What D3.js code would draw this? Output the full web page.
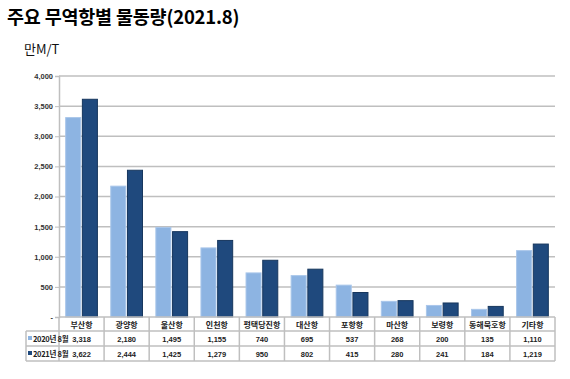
<!DOCTYPE html>
<html><head><meta charset="utf-8">
<script src="https://cdn.jsdelivr.net/npm/d3@7"></script>
<style>
body{margin:0;background:#fff;}
svg{display:block;font-family:"Noto Sans CJK KR","Noto Sans",sans-serif;}
</style></head>
<body><svg id="c" width="570" height="379"></svg>
<script>
const categories = ["부산항","광양항","울산항","인천항","평택당진항","대산항","포항항","마산항","보령항","동해묵호항","기타항"];
const series2020 = [3318,2180,1495,1155,740,695,537,268,200,135,1110];
const series2021 = [3622,2444,1425,1279,950,802,415,280,241,184,1219];
const seriesNames = ["2020년 8월","2021년 8월"];
const yTicks = [0,500,1000,1500,2000,2500,3000,3500,4000];
const colors = ["#8DB4E2","#1F497D"];
const strokes = ["#A9C6EA","#17375E"];

(function(){
const svg = d3.select("#c");
const pL = 59, pR = 555, pT = 76, pB = 317;
const x = d3.scaleBand().domain(categories).range([pL,pR]);
const inner = d3.scaleBand().domain([0,1]).range([0,x.bandwidth()]).paddingInner(0.04).paddingOuter(0.37);
const y = d3.scaleLinear().domain([0,4000]).range([pB,pT]);
const fmt = d3.format(",");

svg.append("text").attr("x",7).attr("y",24).attr("font-size",18.5).attr("font-weight","bold").attr("fill","#000").attr("letter-spacing",-0.2).text("주요 무역항별 물동량(2021.8)");
svg.append("text").attr("x",24).attr("y",54).attr("font-size",13).attr("fill","#111").text("만M/T");

svg.append("g").selectAll("line").data(yTicks.filter(d=>d>0)).join("line")
 .attr("x1",pL).attr("x2",pR).attr("y1",d=>y(d)).attr("y2",d=>y(d))
 .attr("stroke","#BFBFBF").attr("stroke-width",1.5);
const ya = svg.append("g").attr("transform",`translate(${pL},0)`)
 .call(d3.axisLeft(y).tickValues(yTicks).tickSize(4).tickFormat(d=>d===0?"-":fmt(d)));
ya.select(".domain").attr("stroke","#BFBFBF").attr("stroke-width",1.5);
ya.selectAll(".tick line").attr("stroke","#BFBFBF");
ya.selectAll("text").attr("font-size",7.5).attr("font-weight","bold").attr("fill","#333").attr("font-family","Liberation Sans, Arial, sans-serif").attr("x",-6);

const data = [series2020, series2021];
data.forEach((vals,si)=>{
  svg.append("g").selectAll("rect").data(vals).join("rect")
   .attr("x",(d,i)=>x(categories[i])+inner(si)+0.5)
   .attr("width",inner.bandwidth()-1)
   .attr("y",d=>y(d)+0.5)
   .attr("height",d=>pB-y(d)-0.5)
   .attr("fill",colors[si]).attr("stroke",strokes[si]).attr("stroke-width",1);
});

const rowY = [317,331,346,361];
const tg = svg.append("g");
const lc = "#BFBFBF";
tg.append("line").attr("x1",pL).attr("x2",pR).attr("y1",rowY[0]).attr("y2",rowY[0]).attr("stroke",lc).attr("stroke-width",1.5);
[1,2,3].forEach(r=>{
  tg.append("line").attr("x1",26).attr("x2",pR).attr("y1",rowY[r]).attr("y2",rowY[r]).attr("stroke",lc).attr("stroke-width",1.5);
});
const bounds = categories.map(c=>x(c)).concat([pR]);
tg.selectAll("line.v").data(bounds).join("line").attr("class","v")
 .attr("x1",d=>d).attr("x2",d=>d).attr("y1",rowY[0]).attr("y2",rowY[3]).attr("stroke",lc).attr("stroke-width",1.5);
tg.append("line").attr("x1",26).attr("x2",26).attr("y1",rowY[1]).attr("y2",rowY[3]).attr("stroke",lc).attr("stroke-width",1.5);

tg.selectAll("text.cat").data(categories).join("text").attr("class","cat")
 .attr("x",d=>x(d)+x.bandwidth()/2).attr("y",rowY[0]+11).attr("text-anchor","middle")
 .attr("font-size",8).attr("font-weight","bold").attr("fill","#222").text(d=>d);
data.forEach((vals,si)=>{
  tg.selectAll("text.v"+si).data(vals).join("text").attr("class","v"+si)
   .attr("x",(d,i)=>x(categories[i])+x.bandwidth()/2).attr("y",rowY[si+1]+10.5).attr("text-anchor","middle")
   .attr("font-size",7.5).attr("font-weight","bold").attr("fill","#222").attr("font-family","Liberation Sans, Arial, sans-serif")
   .text(d=>fmt(d));
  tg.append("rect").attr("x",28).attr("y",rowY[si+1]+5).attr("width",4).attr("height",4).attr("fill",colors[si]);
  tg.append("text").attr("x",33).attr("y",rowY[si+1]+10.5).attr("font-size",7.5).attr("font-weight","bold").attr("fill","#222").attr("letter-spacing",-0.3).text(seriesNames[si]);
});
})();
</script></body></html>
